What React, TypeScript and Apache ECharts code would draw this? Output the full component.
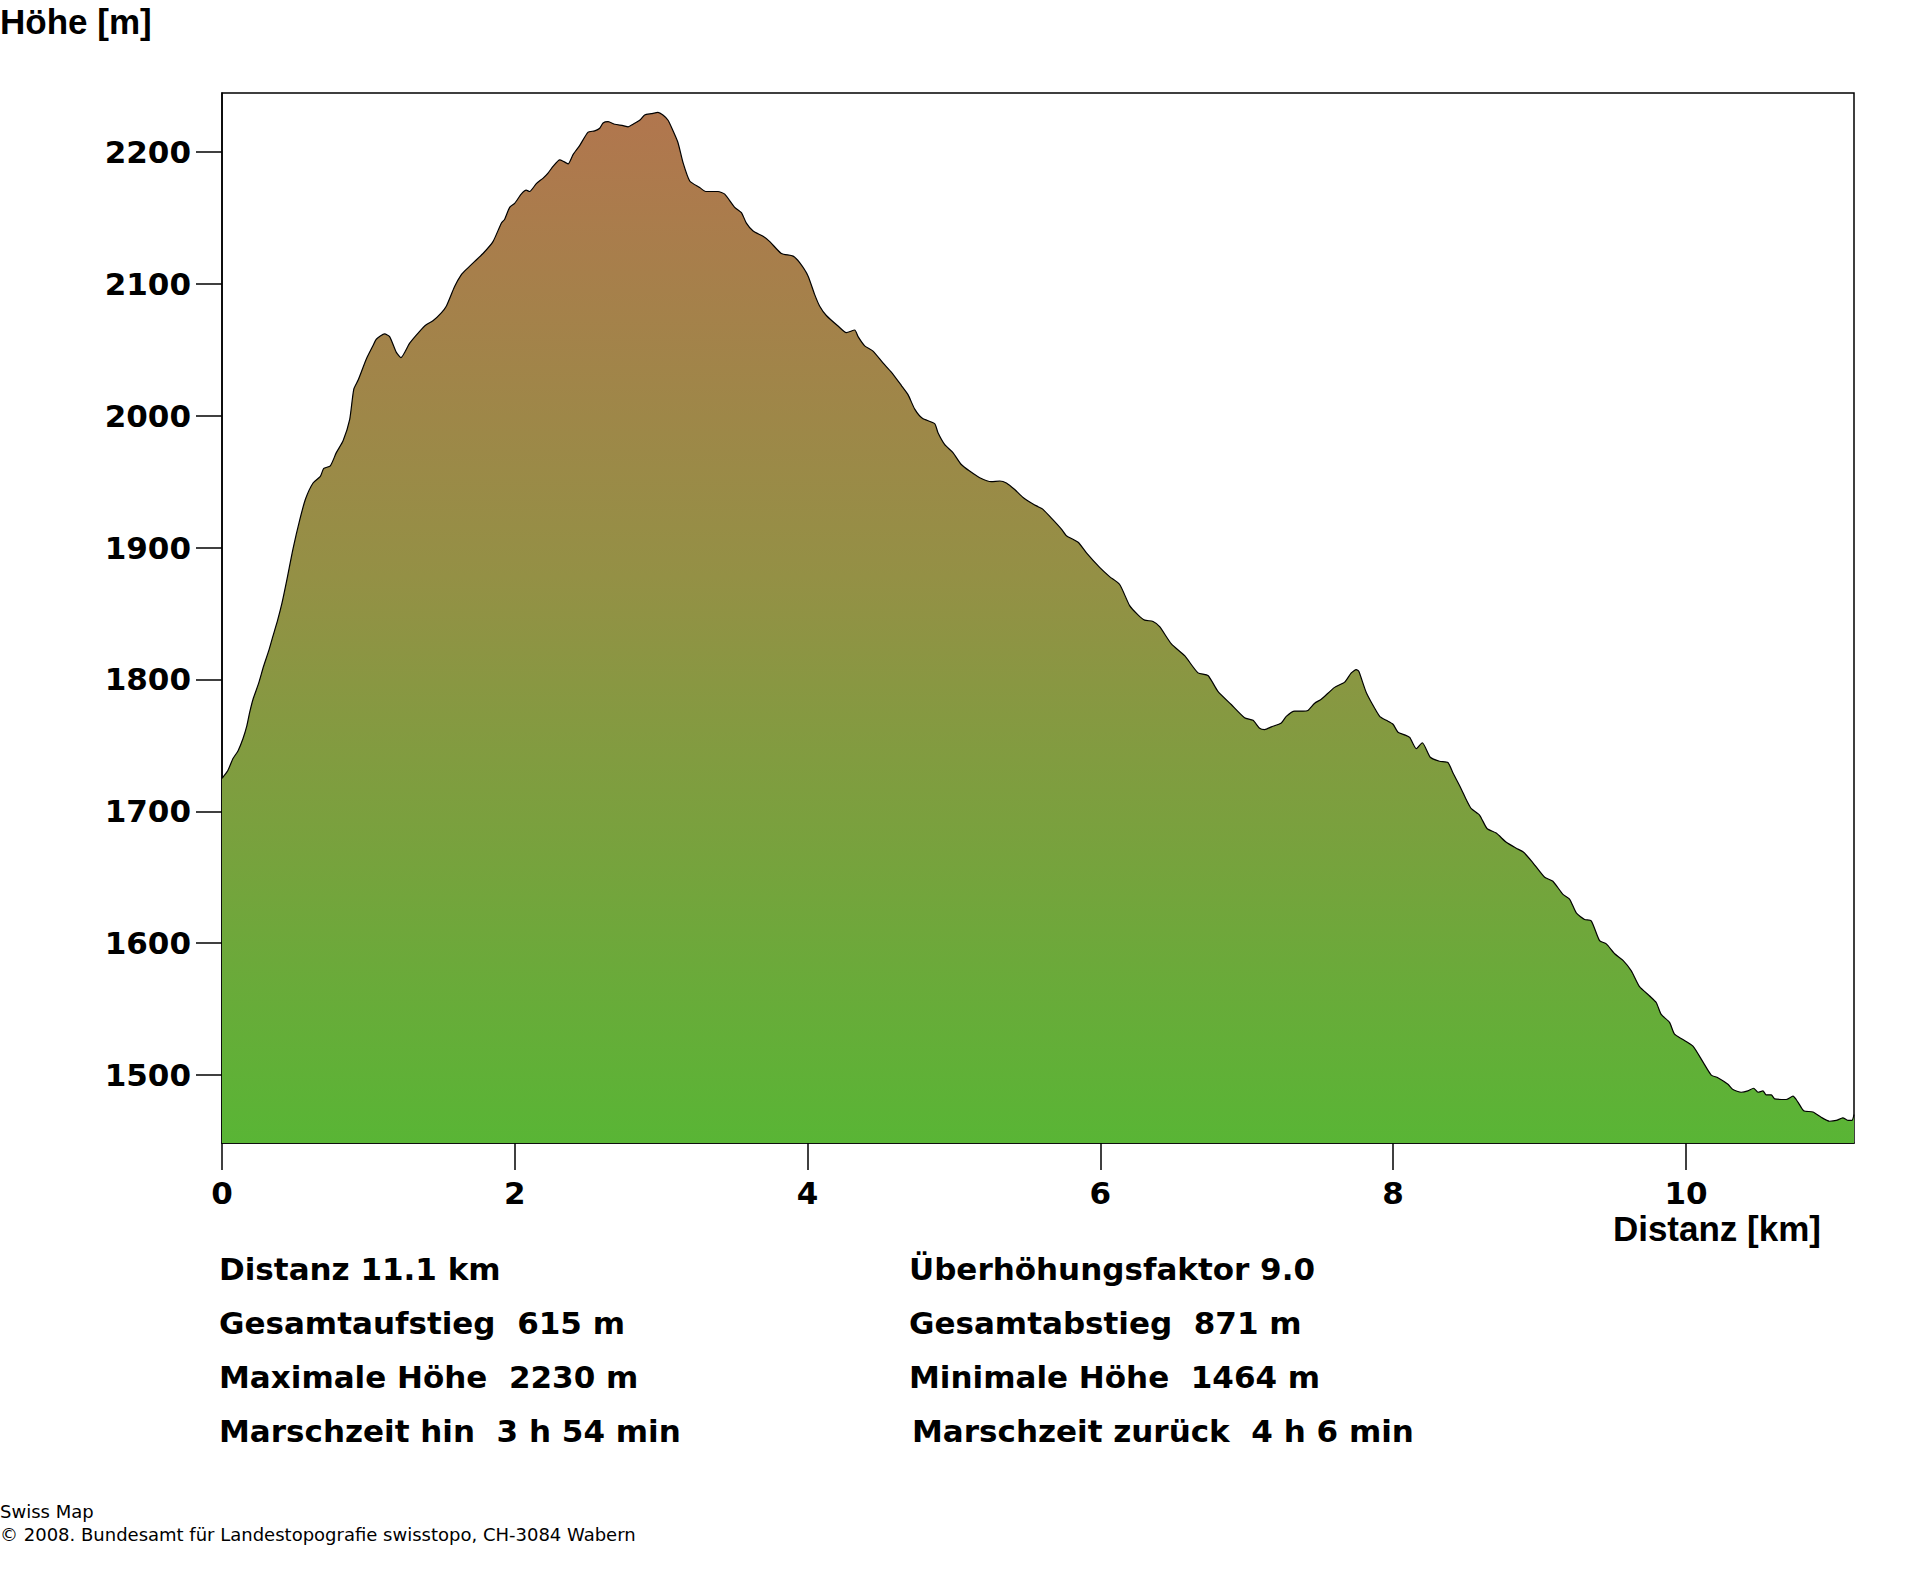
import React, { useEffect, useRef } from "react";
import * as echarts from "echarts";

const distanceKm = [
  0.0, 0.04, 0.075, 0.11, 0.143, 0.17, 0.189, 0.212, 0.25, 0.284, 0.32, 0.343, 0.38, 0.41, 0.444, 0.485, 0.531, 0.571,
  0.622, 0.672, 0.695, 0.74, 0.781, 0.827, 0.872, 0.9, 0.93, 0.986, 1.031, 1.054, 1.111, 1.145, 1.191, 1.222, 1.282,
  1.35, 1.395, 1.441, 1.498, 1.532, 1.589, 1.635, 1.669, 1.726, 1.783, 1.851, 1.908, 1.931, 1.965, 1.999, 2.044, 2.078,
  2.101, 2.147, 2.192, 2.227, 2.261, 2.307, 2.33, 2.364, 2.398, 2.444, 2.501, 2.546, 2.58, 2.603, 2.637, 2.683, 2.74,
  2.774, 2.808, 2.853, 2.887, 2.933, 2.978, 3.012, 3.047, 3.081, 3.115, 3.149, 3.195, 3.263, 3.304, 3.388, 3.434, 3.502,
  3.548, 3.582, 3.628, 3.696, 3.742, 3.821, 3.901, 3.946, 4.003, 4.048, 4.083, 4.128, 4.208, 4.265, 4.322, 4.345, 4.39,
  4.447, 4.515, 4.572, 4.64, 4.686, 4.732, 4.784, 4.868, 4.891, 4.937, 4.993, 5.05, 5.107, 5.176, 5.256, 5.313, 5.358,
  5.415, 5.472, 5.54, 5.575, 5.608, 5.677, 5.734, 5.768, 5.848, 5.905, 5.995, 6.063, 6.132, 6.2, 6.257, 6.303, 6.36,
  6.405, 6.485, 6.576, 6.667, 6.735, 6.803, 6.894, 6.985, 7.043, 7.088, 7.122, 7.168, 7.236, 7.27, 7.327, 7.384, 7.418,
  7.464, 7.509, 7.6, 7.669, 7.714, 7.748, 7.766, 7.817, 7.908, 7.953, 7.999, 8.033, 8.078, 8.113, 8.158, 8.199, 8.254,
  8.317, 8.374, 8.409, 8.465, 8.499, 8.534, 8.591, 8.641, 8.704, 8.773, 8.841, 8.891, 8.955, 9.035, 9.091, 9.16, 9.205,
  9.251, 9.308, 9.353, 9.41, 9.456, 9.513, 9.57, 9.627, 9.683, 9.752, 9.797, 9.831, 9.888, 9.922, 9.979, 10.048,
  10.116, 10.173, 10.218, 10.287, 10.321, 10.378, 10.423, 10.462, 10.492, 10.526, 10.548, 10.583, 10.606, 10.685,
  10.731, 10.765, 10.804, 10.867, 10.924, 10.981, 11.027, 11.072, 11.106, 11.134, 11.148,
];

const elevationM = [
  1725, 1731, 1740, 1746, 1755, 1765, 1775, 1785, 1797, 1810, 1822, 1831, 1845, 1858, 1876, 1899, 1921, 1937,
  1949, 1954, 1960, 1962, 1972, 1981, 1997, 2020, 2027, 2043, 2053, 2058, 2062, 2060, 2048, 2044, 2055,
  2064, 2069, 2072, 2078, 2083, 2098, 2107, 2111, 2117, 2123, 2132, 2146, 2149, 2158, 2161, 2168, 2171,
  2170, 2176, 2180, 2184, 2189, 2194, 2193, 2191, 2198, 2205, 2215, 2216, 2218, 2222, 2223, 2221, 2220,
  2219, 2221, 2224, 2228, 2229, 2230, 2228, 2224, 2216, 2207, 2192, 2178, 2173, 2170, 2170, 2168, 2158,
  2154, 2146, 2140, 2136, 2132, 2123, 2121, 2116, 2106, 2092, 2083, 2076, 2068, 2063, 2065, 2060, 2053,
  2049, 2040, 2033, 2023, 2016, 2005, 1998, 1994, 1987, 1978, 1972, 1963, 1958, 1953, 1950, 1950.5, 1949,
  1944, 1938, 1933, 1931, 1929, 1921, 1914, 1909, 1904, 1896, 1885, 1878, 1872, 1856, 1849, 1845, 1844,
  1840, 1827, 1818, 1805, 1803, 1791, 1781, 1771, 1769, 1763, 1762, 1764, 1767, 1772, 1776, 1776, 1776.5,
  1782, 1785, 1794, 1798, 1805, 1807.5, 1806, 1790, 1772, 1769, 1766, 1760, 1758, 1756, 1747.5, 1752, 1741,
  1738, 1737, 1729, 1717, 1709, 1702, 1697, 1687, 1683.5, 1676.5, 1672, 1669, 1661, 1650, 1647, 1637, 1633.5,
  1623, 1618, 1617, 1602, 1599.5, 1592, 1587, 1579, 1567, 1560, 1555, 1546, 1540, 1531, 1527, 1522,
  1510, 1500, 1498, 1493, 1489, 1487, 1488, 1490, 1487, 1488, 1485, 1485, 1482, 1481.5,
  1484, 1479.5, 1473, 1472, 1468, 1465, 1465.6, 1467.6, 1465.6, 1465.6, 1470,
];

const xTickValues = [0, 2, 4, 6, 8, 10];
const yTickValues = [1500, 1600, 1700, 1800, 1900, 2000, 2100, 2200];

const yAxisTitle = "Höhe [m]";
const xAxisTitle = "Distanz [km]";

const leftStats = [
  "Distanz 11.1 km",
  "Gesamtaufstieg \u00a0615 m",
  "Maximale Höhe \u00a02230 m",
  "Marschzeit hin \u00a03 h 54 min",
];
const rightStats = [
  "Überhöhungsfaktor 9.0",
  "Gesamtabstieg \u00a0871 m",
  "Minimale Höhe \u00a01464 m",
  "Marschzeit zurück \u00a04 h 6 min",
];
const footerLines = [
  "Swiss Map",
  "© 2008. Bundesamt für Landestopografie swisstopo, CH-3084 Wabern",
];

export default function App() {
  const ref = useRef<HTMLDivElement>(null);

  useEffect(() => {
    document.body.style.margin = "0";
    if (!ref.current) return;
    const chart = echarts.init(ref.current, undefined, { renderer: "svg" });

    const data = distanceKm.map((d, i) => [d, elevationM[i]]);
    const statFont = 'bold 31px "DejaVu Sans", Verdana, sans-serif';
    const titleFont = 'bold 35px "Liberation Sans", Arial, sans-serif';

    const graphics: any[] = [
      {
        type: "text",
        x: 0,
        y: 4,
        style: {
          text: yAxisTitle,
          font: titleFont,
          lineHeight: 34,
          fill: "#000",
          textAlign: "left",
          textVerticalAlign: "top",
        },
      },
      {
        type: "text",
        x: 1821,
        y: 1212,
        style: {
          text: xAxisTitle,
          font: titleFont,
          lineHeight: 32,
          fill: "#000",
          textAlign: "right",
          textVerticalAlign: "top",
        },
      },
    ];
    const rowTops = [1253, 1307, 1361, 1415];
    leftStats.forEach((t, i) => {
      graphics.push({
        type: "text",
        x: 219,
        y: rowTops[i],
        style: { text: t, font: statFont, fill: "#000", textAlign: "left", textVerticalAlign: "top" },
      });
    });
    rightStats.forEach((t, i) => {
      graphics.push({
        type: "text",
        x: i === 3 ? 912 : 909,
        y: rowTops[i],
        style: { text: t, font: statFont, fill: "#000", textAlign: "left", textVerticalAlign: "top" },
      });
    });
    footerLines.forEach((t, i) => {
      graphics.push({
        type: "text",
        x: 0,
        y: 1502 + i * 23,
        style: { text: t, font: '18px "DejaVu Sans", Verdana, sans-serif', fill: "#000", textAlign: "left", textVerticalAlign: "top" },
      });
    });

    chart.setOption({
      animation: false,
      backgroundColor: "#fff",
      grid: {
        left: 222,
        top: 93,
        width: 1632,
        height: 1050,
        show: true,
        borderColor: "#000",
        borderWidth: 1.5,
        backgroundColor: "transparent",
        containLabel: false,
      },
      xAxis: {
        type: "value",
        min: 0,
        max: 11.148,
        axisLine: { show: true, onZero: false, lineStyle: { color: "#000", width: 1.5 } },
        axisTick: { show: true, length: 27, customValues: xTickValues, lineStyle: { color: "#000", width: 1.5 } },
        axisLabel: {
          show: true,
          customValues: xTickValues,
          margin: 36,
          lineHeight: 28,
          color: "#000",
          fontSize: 31,
          fontWeight: "bold",
          fontFamily: '"DejaVu Sans", Verdana, sans-serif',
          formatter: (v: number) => String(v),
        },
        splitLine: { show: false },
      },
      yAxis: {
        type: "value",
        min: 1448.5,
        max: 2244.7,
        axisLine: { show: true, lineStyle: { color: "#000", width: 1.5 } },
        axisTick: { show: true, length: 26, customValues: yTickValues, lineStyle: { color: "#000", width: 1.5 } },
        axisLabel: {
          show: true,
          customValues: yTickValues,
          margin: 31,
          color: "#000",
          fontSize: 31,
          fontWeight: "bold",
          fontFamily: '"DejaVu Sans", Verdana, sans-serif',
          formatter: (v: number) => String(v),
        },
        splitLine: { show: false },
      },
      series: [
        {
          type: "line",
          data,
          showSymbol: false,
          smooth: 0.2,
          clip: true,
          lineStyle: { color: "#000", width: 1.2 },
          areaStyle: {
            origin: "start",
            opacity: 1,
            color: new echarts.graphic.LinearGradient(0, 0, 0, 1, [
              { offset: 0, color: "#B1764E" },
              { offset: 0.45, color: "#949045" },
              { offset: 1, color: "#59B535" },
            ]),
          },
        },
      ],
      graphic: graphics,
    });

    return () => chart.dispose();
  }, []);

  return <div ref={ref} style={{ width: 1920, height: 1572 }} />;
}
